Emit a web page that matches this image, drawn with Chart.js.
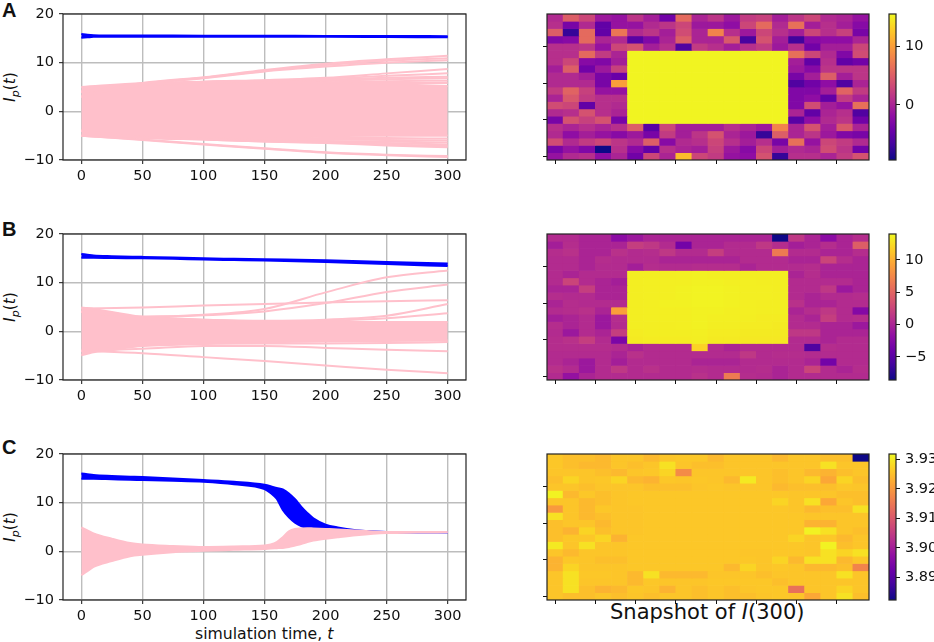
<!DOCTYPE html>
<html>
<head>
<meta charset="utf-8">
<title>Snapshot of I(300)</title>
<script src="https://cdn.jsdelivr.net/npm/chart.js@4/dist/chart.umd.min.js"></script>
<style>
  html, body { margin: 0; padding: 0; background: #fff; width: 934px; height: 642px; overflow: hidden; }
  canvas { position: absolute; display: block; }
  .lab { position: absolute; font-family: "DejaVu Sans", sans-serif; color: #111; white-space: nowrap; line-height: 1; }
  .letter { font-family: "Liberation Sans", sans-serif; font-weight: bold; font-size: 20px; }
  .ylab { font-size: 15.5px; transform: translate(-50%, -50%) rotate(-90deg); }
  .ylab sub { font-size: 11px; line-height: 0; }
</style>
</head>
<body>
<div class="lab letter" style="left:2px;top:0px">A</div>
<div class="lab letter" style="left:2px;top:219px">B</div>
<div class="lab letter" style="left:2px;top:437px">C</div>
<div class="lab ylab" style="left:11px;top:87px"><i>I</i><sub><i>p</i></sub>(<i>t</i>)</div>
<div class="lab ylab" style="left:11px;top:307px"><i>I</i><sub><i>p</i></sub>(<i>t</i>)</div>
<div class="lab ylab" style="left:11px;top:527px"><i>I</i><sub><i>p</i></sub>(<i>t</i>)</div>
<div class="lab" style="left:195px;top:626px;font-size:15.7px">simulation time, <i>t</i></div>
<div class="lab" style="left:610px;top:602px;font-size:21px">Snapshot of <i>I</i>(300)</div>

<script>
// tick labels
const xTicks = [0, 50, 100, 150, 200, 250, 300];
const yTicks = [-10, 0, 10, 20];
const heatXTicks = [0, 2.5, 5, 7.5, 10, 12.5, 15, 17.5];
const heatYTicks = [4.5, 9.5, 14.5, 19.5];

// time points the curves are read at
const t = [0, 50, 100, 150, 200, 250, 300];
const tA = [0, 5, 10, 20, 50, 100, 150, 200, 250, 300];
const tB = [0, 5, 10, 25, 50, 75, 100, 125, 150, 200, 250, 300];
const tC = [0, 5, 10, 25, 40, 50, 75, 100, 125, 150, 155, 160, 165, 170, 175, 180, 185, 190, 200, 210, 225, 250, 275, 300];

// panel A
const aBlueHi = [15.9, 15.75, 15.65, 15.6, 15.6, 15.55, 15.55, 15.5, 15.5, 15.45];
const aBlueLo = [15.1, 15.2, 15.3, 15.35, 15.35, 15.35, 15.3, 15.3, 15.25, 15.2];
const aPinkHi = [5.0, 5.8, 6.1, 6.3, 6.0, 5.6, 5.2];
const aPinkLo = [-5.0, -5.5, -5.7, -5.8, -5.1, -5.0, -5.0];
const aLines = [
  [3, 5.8, 7.0, 8.5, 9.8, 10.7, 11.4],
  [3, 5.7, 6.9, 8.3, 9.5, 10.4, 10.9],
  [3, 5.6, 6.8, 8.2, 9.2, 10.0, 10.5],
  [4, 5.5, 6.1, 6.4, 6.9, 7.8, 8.7],
  [4, 5.5, 6.0, 6.3, 6.7, 7.3, 7.8],
  [4, 5.4, 6.0, 6.3, 6.5, 6.9, 7.1],
  [4, 5.4, 5.9, 6.2, 6.3, 6.6, 6.8],
  [4, 5.3, 5.9, 6.1, 6.0, 6.2, 6.3],
  [4, 5.2, 5.8, 6.0, 5.9, 5.8, 5.8],
  [-5, -5.9, -6.8, -7.7, -8.5, -9.0, -9.4],
  [-5, -5.8, -6.7, -7.6, -8.4, -8.9, -9.2],
  [-4, -5.4, -5.8, -6.2, -6.5, -7.0, -7.4],
  [-4, -5.4, -5.8, -6.2, -6.4, -6.8, -7.1],
  [-4, -5.3, -5.7, -6.1, -6.3, -6.5, -6.8],
  [-4, -5.3, -5.7, -6.0, -6.1, -6.2, -6.4],
  [-4, -5.2, -5.6, -5.8, -5.8, -5.9, -6.0],
  [-4, -5.2, -5.5, -5.6, -5.5, -5.5, -5.6]
];

// panel B
const bBlueHi = [15.9, 15.75, 15.6, 15.45, 15.3, 15.15, 15.0, 14.9, 14.8, 14.6, 14.25, 13.95];
const bBlueLo = [15.1, 15.1, 15.1, 15.05, 15.0, 14.9, 14.75, 14.65, 14.55, 14.25, 13.85, 13.4];
const bPinkHi = [4.9, 4.8, 4.6, 4.0, 3.0, 2.7, 2.4, 2.2, 2.0, 1.9, 1.9, 1.9];
const bPinkLo = [-4.9, -4.6, -4.3, -3.9, -2.9, -2.7, -2.5, -2.4, -2.2, -2.1, -2.0, -1.9];
const bLines = [
  [4, 3.0, 3.4, 4.6, 8.0, 11.1, 12.5],
  [4, 3.0, 3.3, 4.1, 5.8, 8.1, 9.6],
  [4.7, 4.9, 5.3, 5.6, 5.9, 6.2, 6.4],
  [4, 2.8, 2.4, 2.2, 2.4, 3.2, 5.6],
  [4, 2.6, 2.2, 2.0, 2.2, 2.7, 3.7],
  [-4, -4.5, -5.3, -6.1, -7.0, -7.9, -8.6],
  [-4, -3.6, -3.0, -3.0, -3.4, -3.8, -4.1],
  [-4, -3.0, -2.6, -2.5, -2.5, -2.4, -2.2]
];

// panel C
const cBlueHi = [16.0, 15.85, 15.7, 15.5, 15.35, 15.25, 14.95, 14.65, 14.3, 13.7, 13.4, 13.0, 12.7, 11.9, 10.7, 9.2, 7.9, 6.8, 5.5, 4.9, 4.35, 3.95, 3.9, 3.9];
const cBlueLo = [14.9, 14.9, 14.9, 14.8, 14.7, 14.65, 14.5, 14.3, 13.8, 12.8, 12.0, 10.8, 8.5, 7.0, 5.9, 5.2, 4.8, 4.7, 4.6, 4.45, 4.2, 3.95, 3.9, 3.9];
const cPinkHi = [4.9, 4.3, 3.7, 2.6, 1.7, 1.4, 1.1, 0.9, 1.0, 1.2, 1.4, 1.9, 2.9, 4.1, 4.6, 4.7, 4.75, 4.7, 4.6, 4.5, 4.3, 3.95, 3.95, 3.95];
const cPinkLo = [-4.9, -4.1, -3.2, -2.0, -1.0, -0.7, -0.2, 0.1, 0.3, 0.5, 0.6, 0.65, 0.7, 0.9, 1.2, 1.5, 1.9, 2.2, 2.6, 2.9, 3.3, 3.75, 3.85, 3.9];

// heatmap A, top row first
const heatA = [
  [0.5, 5, 3, -1, -1.5, 1.5, -0.5, -4, 6, 0, 1.5, -1, 2, 2.5, -0.5, 1.5, 3, 0.5, 0, -1.5],
  [1, -3.5, 0.5, -5, -1.5, -1.5, 0.5, 1.5, 3, -1, -1, -2, 3, 6, 0.5, 6.5, -0.5, 1, -0.5, -2.5],
  [5, -7.5, 6, -5, 7, 0.5, 1.5, -0.5, 3.5, 0, 8, 1, -1, 3, 1, -0.5, 3, 1, 2.5, -3.5],
  [-3, -2.5, 6, 0, 0.5, -5.5, -3, 0, 5, 0, 0, 4.5, -6.5, 4, -0.5, -7, -2.5, -2, -2, 0],
  [1, 1, 1.5, -1.5, 3, 4, -0.5, 1, -6, 2, 1, -0.5, 1, 2, -1, 1, -4, -0.5, -0.5, 3],
  [1, 1, 6, 2, 0, 15.3, 15.3, 15.3, 15.3, 15.3, 15.3, 15.3, 15.3, 15.3, 15.3, 6.5, 3, 0.5, -3, 3.5],
  [1, 3, -2.5, -3, -0.5, 15.3, 15.3, 15.3, 15.3, 15.3, 15.3, 15.3, 15.3, 15.3, 15.3, -0.5, -5, 1, -5, -4],
  [-0.5, 5, -4, -1, 2.5, 15.3, 15.3, 15.3, 15.3, 15.3, 15.3, 15.3, 15.3, 15.3, 15.3, -1, -2.5, 1.5, 1.5, 1.5],
  [0.5, 0.5, -0.5, -3.5, -4.5, 15.3, 15.3, 15.3, 15.3, 15.3, 15.3, 15.3, 15.3, 15.3, 15.3, -3.5, -0.5, 5, -0.5, 1.5],
  [0.5, 0.5, 0.5, -3.5, 10, 15.3, 15.3, 15.3, 15.3, 15.3, 15.3, 15.3, 15.3, 15.3, 15.3, -6, -4, -2, -6, 0],
  [2, 5.5, 2.5, -1.5, -1.5, 15.3, 15.3, 15.3, 15.3, 15.3, 15.3, 15.3, 15.3, 15.3, 15.3, -3, -3, -0.5, 5.5, 2],
  [0, 4.5, 2, 1, 1, 15.3, 15.3, 15.3, 15.3, 15.3, 15.3, 15.3, 15.3, 15.3, 15.3, -3, -2, -5, 2, 0],
  [3.5, 3, -5, 1, 0.5, 15.3, 15.3, 15.3, 15.3, 15.3, 15.3, 15.3, 15.3, 15.3, 15.3, -3, 3.5, -0.5, -1.5, 6.5],
  [0.5, 1, 4, 1, 0, 15.3, 15.3, 15.3, 15.3, 15.3, 15.3, 15.3, 15.3, 15.3, 15.3, 0, -5, 0, 1, -6],
  [-3.5, 4, 2.5, 4, -3.5, 15.3, 15.3, 15.3, 15.3, 15.3, 15.3, 15.3, 15.3, 15.3, 15.3, -5.5, -2, 0.5, 1.5, -4],
  [1, 0, 1, 0, 1, 5, -5.5, 3, -0.5, -0.5, -0.5, 1, 0, -1, 8, 0, 4, -0.5, 4.5, 0],
  [0.5, -2, -0.5, -1.5, -2.5, -1, -3.5, 2, -0.5, 1.5, 4, 0, -1, -7.5, 5, 0, 1.5, -1, -3, -3.5],
  [3.5, 0.5, 2, 3, 1.5, 0.5, 5, -2.5, 0.5, 1, 3, 1, -0.5, 1, -3.5, 6.5, -1.5, 3, 2, 0.5],
  [-3.5, -1.5, -3, -9.5, 1, -2.5, -5, 1, 0, -0.5, 2.5, -1, -2.5, 3, -0.5, 0.5, 0, 3.5, 1.5, -4],
  [-1.5, 0.5, 1, -2, 0, -4, 3, 0, 12, 3, 2, -1.5, -2, 4, -7.5, 1, 1, 0, 2, 4]
];

// heatmap B
const heatB = [
  [0.5, 0.5, 0, 0, -2, -1, 0, 0, 0, 0, 0, 0, 0, 0, -8.5, 1.5, 0, -2, 0, 0.7],
  [-0.5, 0.7, 0, 0, 0, 2, 1.5, 0.5, -3.5, 0, 0, 0.5, 0.5, 1.5, 0.7, -0.5, 0, 0.7, 0, 4.5],
  [0.7, 1, 0, 0, 1, 0.5, 0.7, 1.5, 0.5, 0.5, 2, 0.5, 0.5, 0.5, 6.5, 0.5, 0.5, 0, 0, 0.7],
  [0.5, 0.5, 0, 0.7, 0.5, 0.5, 0.5, 0, 0, 0, 0, 0, 0.5, 0.5, 0.5, 0, 0, 2.5, 0.7, 0],
  [0.5, 0.5, 0, 0.5, 0.5, -0.5, 0.7, 0.5, 0.5, 0.7, 0.7, 0.7, 0, 0.5, 0.5, 0.5, 0.7, 0, 0, 0],
  [0.5, 0, 0.5, 0.5, 0.5, 13.4, 13.4, 13.4, 13.5, 13.6, 13.5, 13.5, 13.4, 13.4, 13.4, 0, 0.7, 0, 0, 0],
  [0.5, 2.5, 0.5, 0, -0.5, 13.4, 13.5, 13.5, 13.5, 13.6, 13.6, 13.5, 13.5, 13.4, 13.4, 0.5, 0.5, 0.5, 0.5, 0],
  [0, 0, 2, 0, 0, 13.4, 13.5, 13.5, 13.6, 13.7, 13.7, 13.6, 13.5, 13.5, 13.4, 0.5, 0.5, 1.5, -1, 0],
  [0.7, 0.5, 0.5, 0, 0, 13.4, 13.5, 13.5, 13.6, 13.7, 13.7, 13.6, 13.5, 13.5, 13.4, 0.5, 0, 0.5, 0.5, 0.7],
  [0, 0.7, 0.5, 0.5, 0.5, 13.4, 13.5, 13.6, 13.6, 13.7, 13.7, 13.6, 13.5, 13.4, 13.4, 1, 0, 0, 0.5, 0.5],
  [0.5, 0.7, 1, 0, 9, 13.4, 13.5, 13.5, 13.5, 13.6, 13.6, 13.5, 13.5, 13.4, 13.4, 0, 0.7, 1.5, 0.5, -2.5],
  [-0.5, 0, 0.5, -1, 0.7, 13.4, 13.5, 13.5, 13.5, 13.6, 13.5, 13.5, 13.4, 13.3, 13.3, 0.5, 0, 2, 0.5, 0.7],
  [0.7, 0, 0.5, -1, 0.5, 13.4, 13.4, 13.4, 13.5, 13.6, 13.4, 13.4, 13.3, 13.3, 13.2, 0.5, 0.5, 0, 0, -1],
  [0.5, -1, 0.5, 0, 2, 13.3, 13.4, 13.4, 13.4, 13.5, 13.3, 13.3, 13.2, 13.2, 13.2, 1.5, 1.5, 0, 0, 0],
  [0.7, 1, 2, 0.5, -3, 13.2, 13.3, 13.3, 13.3, 13.4, 13.2, 13.2, 13.1, 13.1, 13.1, 0.5, 0.5, 0, 0.5, 0.5],
  [0.7, 0.7, 0.7, 0.7, 0.5, 0, 0.5, 0.5, 0.5, 12, 0.5, 0, 0.5, 0.5, 0.5, 0.5, -5.5, 0.7, 0.5, 0.5],
  [0.5, 0.5, 0.5, 0.5, 0, 1, 0.5, 0.5, 0.5, 0.5, 0.5, 0.5, 1.5, 0.5, 0.7, 0.7, 0.5, 0.5, 0.5, 0.5],
  [0.5, 0, -1, 0.5, -0.5, 0.5, 0.5, 0.5, 0.5, 0, 0, 0, 0.5, 0.5, 0.5, 0.5, 0, -3.5, 0.5, 0.5],
  [1, 0.5, -1, 0.5, 1.5, 0.5, 1, 0.5, 0.5, 0.7, 0.5, 0.5, 0.5, 0.7, 0, 0.5, 2.5, 0.5, 0, 0.7],
  [0.5, -1.5, 0, 0.5, 0.5, 0.5, 0.5, 0.5, 0.5, 1, 0.5, 6.5, 0.7, 0.5, 0, 0.5, 0.5, 0.5, 0.5, 0.5]
];

// heatmap C
const heatC = [
  [3.926, 3.925, 3.925, 3.9243, 3.9257, 3.9257, 3.9243, 3.9257, 3.926, 3.926, 3.9243, 3.9257, 3.9257, 3.9257, 3.9243, 3.9257, 3.9257, 3.925, 3.925, 3.8825],
  [3.926, 3.925, 3.9243, 3.9243, 3.9257, 3.925, 3.9257, 3.929, 3.9257, 3.925, 3.925, 3.9257, 3.9257, 3.9257, 3.9257, 3.9257, 3.9257, 3.929, 3.9257, 3.9257],
  [3.9257, 3.9257, 3.9257, 3.925, 3.9243, 3.9257, 3.926, 3.9275, 3.918, 3.9257, 3.9257, 3.9257, 3.9257, 3.9257, 3.925, 3.9257, 3.9243, 3.9235, 3.925, 3.9257],
  [3.925, 3.9275, 3.9257, 3.926, 3.9275, 3.9243, 3.9235, 3.926, 3.9257, 3.926, 3.9257, 3.9243, 3.93, 3.9257, 3.925, 3.9257, 3.9275, 3.922, 3.9275, 3.925],
  [3.9257, 3.9257, 3.925, 3.9257, 3.9257, 3.9257, 3.925, 3.925, 3.925, 3.9257, 3.926, 3.9257, 3.9257, 3.9257, 3.9243, 3.925, 3.925, 3.925, 3.926, 3.9257],
  [3.931, 3.9243, 3.926, 3.925, 3.9257, 3.926, 3.926, 3.926, 3.926, 3.926, 3.926, 3.926, 3.926, 3.926, 3.926, 3.9257, 3.9257, 3.9257, 3.925, 3.925],
  [3.9257, 3.9257, 3.9243, 3.925, 3.9257, 3.926, 3.926, 3.926, 3.926, 3.926, 3.926, 3.926, 3.926, 3.926, 3.9275, 3.9257, 3.929, 3.922, 3.9257, 3.925],
  [3.920, 3.9257, 3.9243, 3.926, 3.9257, 3.9257, 3.926, 3.926, 3.926, 3.926, 3.926, 3.926, 3.926, 3.926, 3.926, 3.9257, 3.9243, 3.925, 3.925, 3.929],
  [3.929, 3.9257, 3.9243, 3.925, 3.9257, 3.9257, 3.926, 3.926, 3.926, 3.926, 3.926, 3.926, 3.926, 3.926, 3.926, 3.926, 3.9257, 3.9257, 3.9257, 3.9257],
  [3.925, 3.9257, 3.9257, 3.9243, 3.9257, 3.9257, 3.926, 3.926, 3.926, 3.926, 3.926, 3.926, 3.926, 3.926, 3.926, 3.926, 3.9235, 3.9235, 3.9257, 3.9257],
  [3.925, 3.9235, 3.9275, 3.925, 3.9257, 3.9257, 3.926, 3.926, 3.926, 3.926, 3.926, 3.926, 3.926, 3.926, 3.926, 3.926, 3.931, 3.929, 3.9257, 3.925],
  [3.925, 3.926, 3.926, 3.9275, 3.9235, 3.926, 3.926, 3.926, 3.926, 3.926, 3.926, 3.926, 3.926, 3.926, 3.926, 3.9275, 3.9257, 3.926, 3.9243, 3.9257],
  [3.93, 3.9257, 3.929, 3.9257, 3.9257, 3.926, 3.926, 3.926, 3.926, 3.926, 3.926, 3.926, 3.926, 3.926, 3.926, 3.926, 3.9257, 3.931, 3.925, 3.9257],
  [3.9257, 3.9243, 3.9257, 3.9257, 3.9257, 3.926, 3.926, 3.926, 3.926, 3.926, 3.926, 3.926, 3.9257, 3.9257, 3.926, 3.926, 3.9257, 3.929, 3.9275, 3.929],
  [3.9235, 3.926, 3.9257, 3.925, 3.925, 3.926, 3.926, 3.926, 3.926, 3.926, 3.926, 3.926, 3.926, 3.9257, 3.9275, 3.9243, 3.929, 3.929, 3.9243, 3.926],
  [3.9235, 3.9275, 3.9257, 3.9257, 3.9257, 3.926, 3.926, 3.926, 3.926, 3.926, 3.926, 3.9243, 3.9275, 3.9257, 3.926, 3.9257, 3.9243, 3.9243, 3.925, 3.917],
  [3.9257, 3.929, 3.926, 3.926, 3.9257, 3.9243, 3.929, 3.9243, 3.9243, 3.9243, 3.9257, 3.9257, 3.9257, 3.925, 3.9257, 3.9257, 3.9257, 3.9257, 3.929, 3.9257],
  [3.9257, 3.929, 3.9257, 3.9257, 3.9257, 3.9243, 3.926, 3.9257, 3.9257, 3.9257, 3.926, 3.926, 3.926, 3.926, 3.925, 3.9257, 3.9257, 3.9257, 3.9257, 3.9257],
  [3.9257, 3.929, 3.925, 3.9235, 3.9243, 3.926, 3.9257, 3.9235, 3.9257, 3.925, 3.9257, 3.925, 3.9257, 3.926, 3.926, 3.914, 3.9257, 3.9257, 3.9275, 3.9257],
  [3.9257, 3.925, 3.925, 3.9257, 3.925, 3.9257, 3.925, 3.9257, 3.9257, 3.925, 3.9257, 3.925, 3.925, 3.9257, 3.926, 3.9257, 3.922, 3.9257, 3.929, 3.925]
];

// colour bar ranges and ticks
const rangeA = [-9.5, 15.6];
const rangeB = [-8.6, 14.0];
const rangeC = [3.8824, 3.9318];
const barTicksA = [0, 10];
const barTicksB = [-5, 0, 5, 10];
const barTicksC = [3.89, 3.90, 3.91, 3.92, 3.93];

const PINK = "#ffc0cb";
const BLUE = "#0000ff";
const FONT = { family: "'DejaVu Sans', sans-serif", size: 14.5 };
Chart.defaults.color = "#111";
Chart.defaults.animation = false;

// plasma colormap
const plasma = ["#0d0887", "#41049d", "#6a00a8", "#8f0da4", "#b12a90", "#cc4778", "#e16462", "#f2844b", "#fca636", "#fcce25", "#f0f921"];
function rgb(hex) {
  return [1, 3, 5].map(i => parseInt(hex.substr(i, 2), 16));
}
function plasmaColor(f) {
  f = Math.min(1, Math.max(0, f));
  const pos = f * (plasma.length - 1);
  const i = Math.min(plasma.length - 2, Math.floor(pos));
  const a = rgb(plasma[i]), b = rgb(plasma[i + 1]), k = pos - i;
  return "rgb(" + a.map((v, j) => Math.round(v + (b[j] - v) * k)).join(",") + ")";
}

// black box round the axes
const frame = {
  id: "frame",
  afterDraw(chart) {
    const a = chart.chartArea, c = chart.ctx;
    c.save();
    c.strokeStyle = "#222";
    c.lineWidth = 1.2;
    c.strokeRect(a.left, a.top, a.right - a.left, a.bottom - a.top);
    c.restore();
  }
};

function addCanvas(left, top, w, h) {
  const el = document.createElement("canvas");
  el.width = w;
  el.height = h;
  el.style.left = left + "px";
  el.style.top = top + "px";
  el.style.width = w + "px";
  el.style.height = h + "px";
  document.body.appendChild(el);
  return el;
}

function setTicks(values) {
  return axis => { axis.ticks = values.map(v => ({ value: v })); };
}

function curve(times, ys, color, fill) {
  return {
    data: times.map((x, i) => ({ x: x, y: ys[i] })),
    borderColor: color,
    backgroundColor: color,
    borderWidth: 2,
    pointRadius: 0,
    cubicInterpolationMode: "monotone",
    fill: fill || false
  };
}

function linePanel(top, datasets) {
  new Chart(addCanvas(0, top, 480, 190), {
    type: "line",
    data: { datasets: datasets },
    options: {
      responsive: false,
      layout: { padding: { top: 14, right: 14, left: 0, bottom: 0 } },
      plugins: { legend: { display: false }, tooltip: { enabled: false } },
      scales: {
        x: {
          type: "linear", min: -15, max: 315,
          afterBuildTicks: setTicks(xTicks),
          afterFit: s => { s.height = 30; },
          grid: { color: "#bdbdbd", lineWidth: 1.4, tickColor: "#111", tickLength: 4, tickWidth: 1 },
          border: { display: false },
          ticks: { font: FONT, padding: 4, maxRotation: 0, autoSkip: false, callback: v => String(v) }
        },
        y: {
          min: -10, max: 20,
          afterBuildTicks: setTicks(yTicks),
          afterFit: s => { s.width = 63; },
          grid: { color: "#bdbdbd", lineWidth: 1.4, tickColor: "#111", tickLength: 4, tickWidth: 1 },
          border: { display: false },
          ticks: { font: FONT, padding: 5, callback: v => (v < 0 ? "\u2212" + (-v) : String(v)) }
        }
      }
    },
    plugins: [frame]
  });
}

function heatPanel(top, rows, range) {
  const datasets = rows.map(row => ({
    data: row.map((v, col) => ({ x: col, y: 1 })),
    backgroundColor: row.map(v => plasmaColor((v - range[0]) / (range[1] - range[0]))),
    barPercentage: 1,
    categoryPercentage: 1,
    borderWidth: 0
  }));
  new Chart(addCanvas(530, top, 350, 190), {
    type: "bar",
    data: { datasets: datasets },
    options: {
      responsive: false,
      layout: { padding: { top: 14, right: 11, left: 0, bottom: 0 } },
      plugins: { legend: { display: false }, tooltip: { enabled: false } },
      scales: {
        x: {
          type: "linear", stacked: true, min: -0.5, max: 19.5, offset: false,
          afterBuildTicks: setTicks(heatXTicks),
          afterFit: s => { s.height = 30; },
          grid: { offset: false, drawOnChartArea: false, tickColor: "#111", tickLength: 4 },
          border: { display: false },
          ticks: { display: false, autoSkip: false }
        },
        y: {
          stacked: true, reverse: true, min: 0, max: 20,
          afterBuildTicks: setTicks(heatYTicks),
          afterFit: s => { s.width = 17; },
          grid: { drawOnChartArea: false, tickColor: "#111", tickLength: 4 },
          border: { display: false },
          ticks: { display: false, autoSkip: false }
        }
      }
    },
    plugins: [frame]
  });
}

function colorBar(top, range, ticks, digits) {
  new Chart(addCanvas(880, top, 54, 190), {
    type: "bar",
    data: {
      labels: [""],
      datasets: [{
        data: [range],
        barPercentage: 1,
        categoryPercentage: 1,
        backgroundColor: ctx => {
          const a = ctx.chart.chartArea;
          if (!a) return "#000";
          const g = ctx.chart.ctx.createLinearGradient(0, a.bottom, 0, a.top);
          plasma.forEach((c, i) => g.addColorStop(i / (plasma.length - 1), c));
          return g;
        }
      }]
    },
    options: {
      responsive: false,
      layout: { padding: { top: 14, right: 0, left: 9, bottom: 30 } },
      plugins: { legend: { display: false }, tooltip: { enabled: false } },
      scales: {
        x: { display: false },
        y: {
          position: "right", min: range[0], max: range[1],
          afterBuildTicks: setTicks(ticks),
          afterFit: s => { s.width = 38; },
          grid: { drawOnChartArea: false, tickColor: "#111", tickLength: 4 },
          border: { display: false },
          ticks: { font: FONT, padding: 5, callback: v => (v < 0 ? "\u2212" + (-v) : v.toFixed(digits)) }
        }
      }
    },
    plugins: [frame]
  });
}

// first dataset ends up on top in Chart.js, so pink goes before blue
linePanel(0, [
  ...aLines.map(ys => curve(t, ys, PINK)),
  curve(t, aPinkHi, PINK, "+1"),
  curve(t, aPinkLo, PINK),
  curve(tA, aBlueHi, BLUE, "+1"),
  curve(tA, aBlueLo, BLUE)
]);
linePanel(220, [
  ...bLines.map(ys => curve(t, ys, PINK)),
  curve(tB, bPinkHi, PINK, "+1"),
  curve(tB, bPinkLo, PINK),
  curve(tB, bBlueHi, BLUE, "+1"),
  curve(tB, bBlueLo, BLUE)
]);
linePanel(440, [
  curve(tC, cPinkHi, PINK, "+1"),
  curve(tC, cPinkLo, PINK),
  curve(tC, cBlueHi, BLUE, "+1"),
  curve(tC, cBlueLo, BLUE)
]);

heatPanel(0, heatA, rangeA);
heatPanel(220, heatB, rangeB);
heatPanel(440, heatC, rangeC);

colorBar(0, rangeA, barTicksA, 0);
colorBar(220, rangeB, barTicksB, 0);
colorBar(440, rangeC, barTicksC, 2);
</script>
</body>
</html>
